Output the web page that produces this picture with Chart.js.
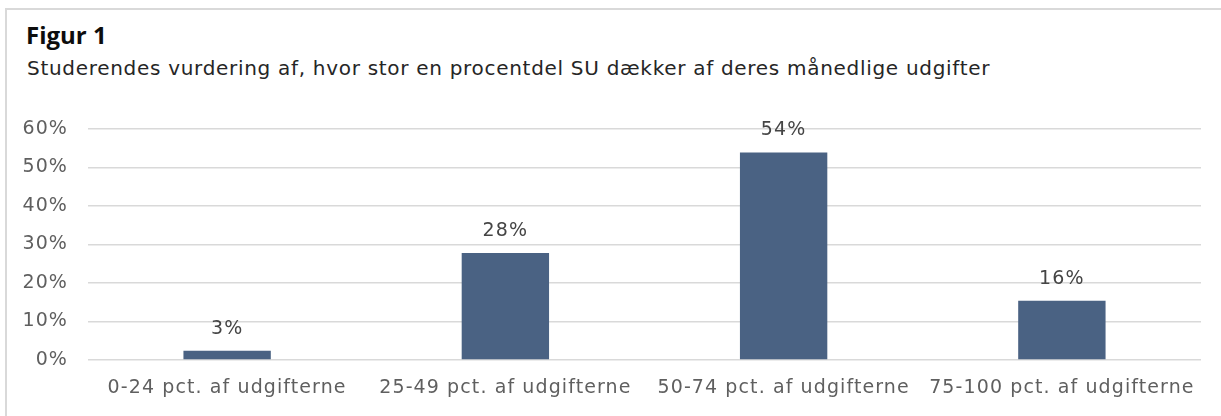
<!DOCTYPE html>
<html>
<head>
<meta charset="utf-8">
<script src="https://cdn.jsdelivr.net/npm/chart.js@4/dist/chart.umd.min.js"></script>
<style>
  html, body { margin: 0; padding: 0; background: #fff; }
  body { width: 1221px; height: 416px; position: relative; overflow: hidden; font-family: "DejaVu Sans", sans-serif; }
  #frame { position: absolute; left: 5px; top: 8px; right: -10px; bottom: -10px; border-left: 2px solid #d9d9d9; border-top: 2px solid #d9d9d9; }
  #title { position: absolute; left: 26px; top: 23px; font-family: "Open Sans", sans-serif; font-size: 24px; font-weight: bold; line-height: 1; color: #0d0d0d; white-space: nowrap; }
  #subtitle { position: absolute; left: 27px; top: 58px; font-size: 20px; line-height: 1; color: #262626; white-space: nowrap; letter-spacing: 0.7px; }
  #wrap { position: absolute; left: 0; top: 0; width: 1221px; height: 416px; }
</style>
</head>
<body>
<div id="frame"></div>
<div id="title">Figur 1</div>
<div id="subtitle">Studerendes vurdering af, hvor stor en procentdel SU dækker af deres månedlige udgifter</div>
<div id="wrap"><canvas id="c" width="1221" height="416"></canvas></div>
<script>
const categories = ["0-24 pct. af udgifterne", "25-49 pct. af udgifterne", "50-74 pct. af udgifterne", "75-100 pct. af udgifterne"];
const shares = [2.4, 27.8, 53.9, 15.4];
const valueLabels = ["3%", "28%", "54%", "16%"];
const yTicks = [0, 10, 20, 30, 40, 50, 60];

const FONT = "'DejaVu Sans', sans-serif";

const spacingPlugin = {
  id: 'spacing',
  beforeDraw(chart) { chart.ctx.letterSpacing = '1.1px'; }
};

const valueLabelPlugin = {
  id: 'valueLabels',
  afterDatasetsDraw(chart) {
    const ctx = chart.ctx;
    const meta = chart.getDatasetMeta(0);
    ctx.save();
    ctx.letterSpacing = '1.1px';
    ctx.font = "19px " + FONT;
    ctx.fillStyle = '#454545';
    ctx.textAlign = 'center';
    ctx.textBaseline = 'alphabetic';
    meta.data.forEach((bar, i) => {
      ctx.fillText(valueLabels[i], bar.x, bar.y - 17);
    });
    ctx.restore();
  }
};

new Chart(document.getElementById('c'), {
  type: 'bar',
  data: {
    labels: categories,
    datasets: [{
      data: shares,
      backgroundColor: '#4a6283',
      borderWidth: 0,
      barPercentage: 0.314,
      categoryPercentage: 1.0
    }]
  },
  options: {
    responsive: false,
    animation: false,
    layout: { padding: { top: 129, right: 20, bottom: 0, left: 0 } },
    plugins: { legend: { display: false }, tooltip: { enabled: false } },
    scales: {
      x: {
        grid: { display: false, drawTicks: false },
        border: { display: false },
        ticks: { color: '#5f5f5f', font: { family: FONT, size: 19 }, padding: 17, maxRotation: 0, autoSkip: false },
        afterFit(scale) { scale.height = 56; }
      },
      y: {
        min: 0, max: 60,
        afterBuildTicks(scale) { scale.ticks = yTicks.map(v => ({ value: v })); },
        grid: { color: '#d9d9d9', lineWidth: 1.5, drawTicks: false },
        border: { display: false },
        ticks: { color: '#5f5f5f', font: { family: FONT, size: 19 }, padding: 20, callback: v => v + '%' },
        afterFit(scale) { scale.width = 88; }
      }
    }
  },
  plugins: [spacingPlugin, valueLabelPlugin]
});
</script>
</body>
</html>
